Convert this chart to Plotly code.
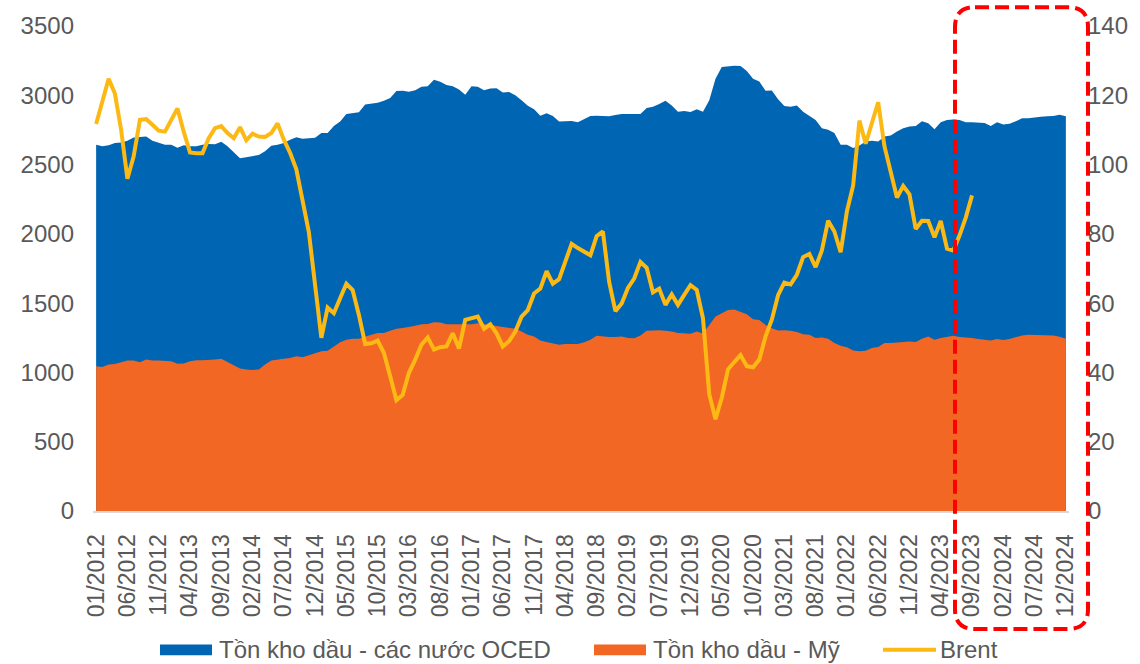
import plotly.graph_objects as go

# ---------------- data ----------------
months = [f"{m:02d}/{y}" for y in range(2012, 2025) for m in range(1, 13)]

oecd_stock = [
    2643, 2632, 2640, 2655, 2660, 2672, 2696, 2700, 2703, 2672, 2660, 2643,
    2643, 2622, 2640, 2632, 2632, 2643, 2648, 2646, 2665, 2632, 2589, 2546,
    2553, 2562, 2569, 2596, 2636, 2643, 2655, 2679, 2698, 2686, 2689, 2693,
    2727, 2727, 2779, 2810, 2865, 2870, 2877, 2934, 2941, 2946, 2960, 2980,
    3031, 3033, 3026, 3037, 3061, 3066, 3113, 3097, 3075, 3066, 3042, 3004,
    3066, 3061, 3037, 3049, 3051, 3020, 3023, 3001, 2965, 2925, 2899, 2853,
    2870, 2851, 2810, 2810, 2815, 2805, 2829, 2851, 2853, 2851, 2848, 2858,
    2865, 2865, 2863, 2865, 2908, 2918, 2937, 2961, 2927, 2882, 2887, 2880,
    2899, 2882, 2965, 3120, 3204, 3211, 3213, 3211, 3175, 3120, 3099, 3032,
    3034, 2971, 2922, 2918, 2927, 2882, 2853, 2822, 2763, 2751, 2727, 2643,
    2643, 2620, 2637, 2667, 2672, 2667, 2703, 2710, 2739, 2763, 2775, 2779,
    2813, 2798, 2755, 2806, 2822, 2825, 2822, 2806, 2805, 2800, 2800, 2779,
    2805, 2790, 2795, 2812, 2834, 2834, 2841, 2846, 2848, 2851, 2860, 2848,
]

us_stock = [
    1045, 1040, 1057, 1060, 1074, 1086, 1086, 1074, 1093, 1086, 1086, 1081,
    1081, 1062, 1064, 1081, 1088, 1088, 1088, 1093, 1098, 1074, 1052, 1028,
    1021, 1018, 1021, 1057, 1086, 1090, 1098, 1105, 1117, 1110, 1124, 1136,
    1152, 1157, 1188, 1217, 1236, 1243, 1243, 1260, 1272, 1284, 1284, 1300,
    1315, 1320, 1327, 1336, 1348, 1350, 1362, 1360, 1348, 1348, 1348, 1353,
    1348, 1355, 1348, 1343, 1339, 1327, 1320, 1315, 1296, 1272, 1260, 1231,
    1219, 1212, 1200, 1205, 1207, 1205, 1217, 1236, 1265, 1258, 1255, 1255,
    1260, 1248, 1246, 1267, 1300, 1303, 1305, 1300, 1296, 1284, 1281, 1279,
    1296, 1281, 1343, 1403, 1427, 1451, 1455, 1439, 1420, 1384, 1379, 1343,
    1319, 1303, 1305, 1300, 1291, 1276, 1272, 1248, 1252, 1243, 1212, 1193,
    1181, 1159, 1152, 1157, 1176, 1183, 1212, 1212, 1217, 1224, 1224, 1219,
    1243, 1260, 1236, 1248, 1258, 1265, 1255, 1253, 1248, 1241, 1236, 1231,
    1241, 1234, 1241, 1253, 1267, 1272, 1272, 1272, 1272, 1267, 1258, 1243,
]

brent = [
    111.7, 118.6, 124.8, 120.5, 110.0, 95.9, 102.4, 112.9, 113.1, 111.5, 109.8, 109.5,
    112.7, 116.2, 109.5, 103.5, 103.3, 103.3, 107.6, 110.5, 111.1, 109.1, 107.6, 110.8,
    107.0, 108.9, 108.1, 108.0, 109.1, 111.9, 107.2, 103.4, 98.6, 89.0, 80.5, 65.2,
    50.0, 58.7, 57.1, 61.4, 65.6, 63.8, 56.6, 48.2, 48.4, 49.2, 45.6, 38.9,
    32.0, 33.5, 39.9, 43.7, 48.0, 50.1, 46.6, 47.3, 47.5, 51.3, 46.9, 55.2,
    55.6, 56.1, 52.6, 53.9, 51.3, 47.5, 49.0, 51.8, 56.1, 58.0, 62.8, 64.2,
    69.2, 65.6, 66.9, 72.3, 77.1, 75.9, 74.7, 73.8, 79.3, 80.7, 66.1, 57.7,
    59.9, 64.4, 67.1, 71.9, 70.2, 63.1, 64.2, 59.5, 62.5, 59.5, 62.4, 65.2,
    63.8, 55.6, 33.7, 26.5, 32.7, 40.9, 43.0, 45.0, 41.8, 41.5, 43.7, 50.4,
    55.2, 62.3, 65.9, 65.4, 68.2, 73.3, 74.2, 70.4, 75.2, 83.8, 80.7, 74.7,
    86.5, 94.0, 112.7, 106.0, 112.0, 118.0, 105.3, 97.6, 90.5, 93.8, 91.4, 81.4,
    83.8, 83.7, 79.0, 83.7, 75.7, 75.2, 79.5, 84.7, 91.1,
]

name_oecd = "Tồn kho dầu - các nước OCED"
name_us = "Tồn kho dầu - Mỹ"
name_brent = "Brent"

# ---------------- style ----------------
C_BLUE = "#0065B3"
C_ORANGE = "#F26724"
C_GOLD = "#FDB913"
C_TEXT = "#595959"
FONT = "Liberation Sans, Arial, sans-serif"

W, H = 1140, 664
PL, PR, PT, PB = 93, 1069, 22, 511  # plot area in pixels


def px_x(x):
    return (x - PL) / (PR - PL)


def px_y(y):
    return (PB - y) / (PB - PT)


fig = go.Figure()
fig.add_trace(go.Scatter(
    x=months, y=oecd_stock, name=name_oecd, mode="lines",
    line=dict(width=0, color=C_BLUE), fill="tozeroy", fillcolor=C_BLUE))
fig.add_trace(go.Scatter(
    x=months, y=us_stock, name=name_us, mode="lines",
    line=dict(width=0, color=C_ORANGE), fill="tozeroy", fillcolor=C_ORANGE))
fig.add_trace(go.Scatter(
    x=months[:len(brent)], y=brent, name=name_brent, mode="lines",
    line=dict(width=4, color=C_GOLD), yaxis="y2"))

fig.update_layout(
    width=W, height=H,
    margin=dict(l=PL, r=W - PR, t=PT, b=H - PB, pad=0),
    plot_bgcolor="white", paper_bgcolor="white",
    showlegend=False,
    font=dict(family=FONT, size=24, color=C_TEXT),
    xaxis=dict(
        type="category", range=[-0.5, len(months) - 0.5],
        tickmode="array", tickvals=months[::5], ticktext=months[::5],
        tickangle=-90, showgrid=False, zeroline=False,
        showline=True, linecolor="#D9D9D9", linewidth=2,
        ticks="", ticklabelstandoff=12,
        tickfont=dict(family=FONT, size=23, color=C_TEXT),
    ),
    yaxis=dict(
        range=[0, 3500], dtick=500, tick0=0, showgrid=False, zeroline=False,
        showline=False, ticks="", ticklabelstandoff=18,
        tickfont=dict(family=FONT, size=24, color=C_TEXT),
    ),
    yaxis2=dict(
        range=[0, 140], dtick=20, tick0=0, overlaying="y", side="right",
        showgrid=False, zeroline=False, showline=False, ticks="",
        ticklabelstandoff=18,
        tickfont=dict(family=FONT, size=24, color=C_TEXT),
    ),
)

# ---------------- red dashed rounded box ----------------
bx0, bx1, by0, by1, r = 955, 1088, 3, 630, 20
pts = [
    ("M", bx0 + r, by0), ("L", bx1 - r, by0), ("Q", bx1, by0, bx1, by0 + r),
    ("L", bx1, by1 - r), ("Q", bx1, by1, bx1 - r, by1),
    ("L", bx0 + r, by1), ("Q", bx0, by1, bx0, by1 - r),
    ("L", bx0, by0 + r), ("Q", bx0, by0, bx0 + r, by0),
]
path = ""
for p in pts:
    cmd = p[0]
    coords = p[1:]
    seg = " ".join(f"{px_x(coords[i]):.5f},{px_y(coords[i + 1]):.5f}" for i in range(0, len(coords), 2))
    path += f"{cmd} {seg} "
path += "Z"
fig.add_shape(type="path", path=path, xref="paper", yref="paper",
              line=dict(color="#FF0000", width=4, dash="14px,6px"),
              fillcolor="rgba(0,0,0,0)", layer="above")

# ---------------- legend (drawn) ----------------
ly = 651
legend_items = [
    ("rect", 160, 212, C_BLUE, 217, name_oecd),
    ("rect", 594, 646, C_ORANGE, 651, name_us),
    ("line", 883, 936, C_GOLD, 938, name_brent),
]
for kind, x0, x1, col, tx, label in legend_items:
    if kind == "rect":
        fig.add_shape(type="rect", xref="paper", yref="paper",
                      x0=px_x(x0), x1=px_x(x1), y0=px_y(ly - 5.5), y1=px_y(ly + 5.5),
                      fillcolor=col, line=dict(width=0))
    else:
        fig.add_shape(type="line", xref="paper", yref="paper",
                      x0=px_x(x0), x1=px_x(x1), y0=px_y(ly), y1=px_y(ly),
                      line=dict(color=col, width=4))
    fig.add_annotation(x=px_x(tx), y=px_y(ly), xref="paper", yref="paper",
                       text=label, showarrow=False, xanchor="left", yanchor="middle",
                       font=dict(family=FONT, size=24, color=C_TEXT))

fig.write_html("out.html", config={"displayModeBar": False},
               post_script="document.body.style.margin='0';")
